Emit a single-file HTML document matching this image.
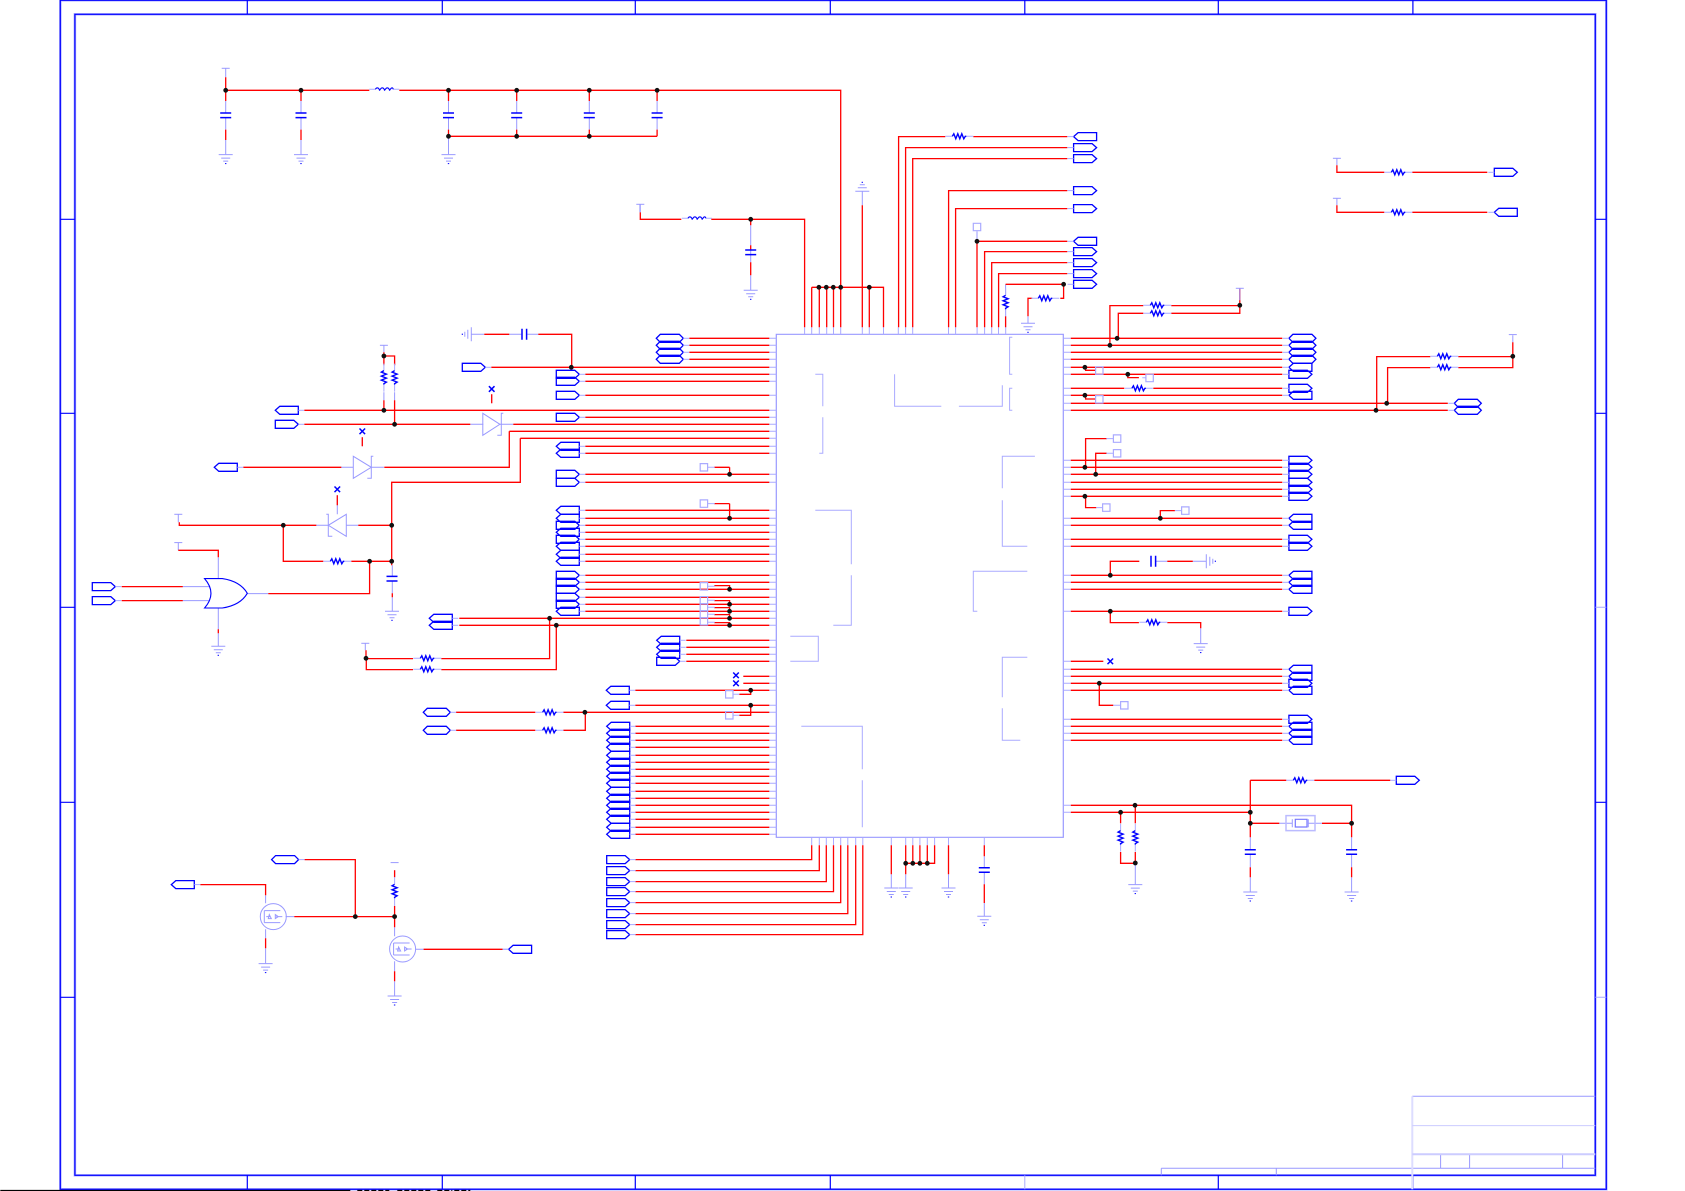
<!DOCTYPE html>
<html><head><meta charset="utf-8"><title>Schematic</title>
<style>html,body{margin:0;padding:0;background:#fff}svg{display:block}</style></head>
<body>
<svg xmlns="http://www.w3.org/2000/svg" width="1685" height="1191" viewBox="0 0 1685 1191" fill="none">
<defs>
<g id="a"><path d="M0-4H18.5L23 0L18.5 4H0Z" stroke="#00f" stroke-width="1.3"/><path d="M23 0h6" stroke="#aaf"/></g>
<g id="b"><path d="M23-4H4.5L0 0L4.5 4H23Z" stroke="#00f" stroke-width="1.3"/><path d="M23 0h6" stroke="#aaf"/></g>
<g id="h"><path d="M4-4H23L27 0L23 4H4L0 0Z" stroke="#00f" stroke-width="1.3"/><path d="M27 0h6" stroke="#aaf"/></g>
<g id="c"><path d="M0-4H18.5L23 0L18.5 4H0Z" stroke="#00f" stroke-width="1.3"/><path d="M-6 0h6" stroke="#aaf"/></g>
<g id="d"><path d="M23-4H4.5L0 0L4.5 4H23Z" stroke="#00f" stroke-width="1.3"/><path d="M-6 0h6" stroke="#aaf"/></g>
<g id="e"><path d="M4-4H23L27 0L23 4H4L0 0Z" stroke="#00f" stroke-width="1.3"/><path d="M-6 0h6" stroke="#aaf"/></g>
<g id="g"><path d="M-7 0H7M-4.500 3.500H4.500M-2.500 6.500H2.500" stroke="#99f"/><path d="M-.7 9h1.400" stroke="#00f"/></g>
<g id="gi"><path d="M-7 0H7M-4.500-3.500H4.500M-2.500-6.500H2.500" stroke="#99f"/><path d="M-.7-9h1.400" stroke="#00f"/></g>
<path id="p" d="M-4 0H4" stroke="#99f"/>
<g id="rh"><path d="M-14 0H-7M7 0H14" stroke="#aaf"/><path d="M-7 0L-5.500-2.500L-3.500 2.500L-1.500-2.500L.5 2.500L2.500-2.500L4.500 2.500L6 0H7" stroke="#00f" stroke-width="1.400"/></g>
<g id="rv"><path d="M0-14V-7M0 7V14" stroke="#aaf"/><path d="M0-7L-2.500-5.500L2.500-3.500L-2.500-1.500L2.500 .5L-2.500 2.500L2.500 4.500L0 6V7" stroke="#00f" stroke-width="1.400"/></g>
<g id="l"><path d="M-15 0H-9M9 0H15" stroke="#aaf"/><path d="M-9 0Q-7-3-5 0Q-5 2-4 0Q-2-3 0 0Q0 2 1 0Q3-3 5 0Q5 2 6 0Q8-3 9 0" stroke="#00f" stroke-width="1.100"/></g>
<g id="cv"><path d="M-5.500-2.300H5.500M-5.500 2.300H5.500" stroke="#00f" stroke-width="1.500"/></g>
<g id="ch"><path d="M-2.300-5.500V5.500M2.300-5.500V5.500" stroke="#00f" stroke-width="1.500"/></g>
<path id="x" d="M-2.800-2.800L2.800 2.800M-2.800 2.800L2.800-2.800" stroke="#00f" stroke-width="1.500"/>
<path id="s" d="M-3.700-3.700H3.700V3.700H-3.700Z" stroke="#aaf" stroke-width="1.200"/>
<g id="m"><circle r="13" stroke="#99f"/><path d="M-9-6H7M-9 6H7M-7 0H-3M3 0H9M-9-6V6M-4-2L-2 2H-5ZM2-2L5 0L2 2Z" stroke="#99f"/></g>
</defs>
<rect width="1685" height="1191" fill="#fff"/>
<g transform="translate(.3 .3)">
<!-- frame -->
<path d="M60 0V1189H1606V0H60ZM74.600 14V1175H1595V14Z" stroke="#aaf" stroke-width="2.500"/>
<path d="M60 0V1189H1606V0H60ZM74.600 14V1175H1595V14Z" stroke="#00f" stroke-width="1.200"/>
<path d="M247 0V14M442 0V14M635 0V14M830 0V14M1024.500 0V14M1218 0V14M1412.600 0V14M60 219H74.600M60 413H74.600M60 607H74.600M60 802H74.600M60 997H74.600M1595 219H1606M1595 413H1606M1595 802H1606M247 1175V1189M442 1175V1189M635 1175V1189M830 1175V1189M1218 1175V1189M1412.600 1175V1189" stroke="#00f" stroke-width="1.200"/>
<path d="M1595 607H1606M1595 997H1606M1024.500 1175V1189" stroke="#aaf"/>
<!-- title block -->
<path d="M1412 1096H1595M1161 1168H1595M1440.300 1154V1168M1469.300 1154V1168M1562.300 1154V1168M1161 1168V1175M1276 1168V1175" stroke="#99f"/>
<path d="M1412 1096V1189" stroke="#ddf" stroke-width="2"/>
<path d="M1412 1125.300H1595" stroke="#ccf"/>
<path d="M1412 1154H1595" stroke="#ccf" stroke-width="2"/>
<path d="M0 1190.300H350" stroke="#000" stroke-width="1.400"/>
<path d="M357 1190.300H389M397 1190.300H432M437 1190.300H452M454 1190.300H470" stroke="#000" stroke-width="1.400" stroke-dasharray="5 2"/>
<!-- chip -->
<path d="M776 334H1063V837H776Z" stroke="#99f" stroke-width="1.200"/>
<path d="M815 374H822.500V406M822.500 417V453H819M894.300 374V406H941M958.600 406H1002V385M1012 337H1009.300V374H1012M1012 388H1009.300V410H1012M1034.600 456H1002V488M1002 500V546H1027M815 510H851V564M851 575V625H833M1027 571H973V611H977M790 636H818V661H790M1027 657H1002V697M1002 708V740H1020M801 726H862V769M862 780V827" stroke="#aaf"/>
<!-- pin stubs -->
<path stroke="#aaf" d="M769 338h7M769 345h7M769 352h7M769 359h7M769 367h7M769 374h7M769 381h7M769 395h7M769 410h7M769 417h7M769 424h7M769 431h7M769 438h7M769 446h7M769 453h7M769 474h7M769 482h7M769 510h7M769 518h7M769 525h7M769 532h7M769 539h7M769 546h7M769 554h7M769 561h7M769 575h7M769 582h7M769 589h7M769 597h7M769 604h7M769 611h7M769 618h7M769 625h7M769 640h7M769 647h7M769 654h7M769 661h7M769 676h7M769 683h7M769 690h7M769 705h7M769 712h7M769 726h7M769 733h7M769 740h7M769 747h7M769 755h7M769 762h7M769 769h7M769 776h7M769 783h7M769 791h7M769 798h7M769 805h7M769 812h7M769 819h7M769 827h7M769 834h7
M1063 338h7.500M1063 345h7.500M1063 352h7.500M1063 359h7.500M1063 367h7.500M1063 374h7.500M1063 388h7.500M1063 395h7.500M1063 403h7.500M1063 410h7.500M1063 460h7.500M1063 467h7.500M1063 474h7.500M1063 482h7.500M1063 489h7.500M1063 496h7.500M1063 518h7.500M1063 525h7.500M1063 539h7.500M1063 546h7.500M1063 575h7.500M1063 582h7.500M1063 589h7.500M1063 611h7.500M1063 661h7.500M1063 669h7.500M1063 676h7.500M1063 683h7.500M1063 690h7.500M1063 719h7.500M1063 726h7.500M1063 733h7.500M1063 740h7.500M1063 805h7.500M1063 812h7.500
M804.300 327v7M811.400 327v7M819 327v7M826.400 327v7M833.200 327v7M840.400 327v7M862 327v7M869 327v7M883.200 327v7M898 327v7M905.300 327v7M912.400 327v7M948.200 327v7M955.300 327v7M976.800 327v7M984.300 327v7M991.400 327v7M998.200 327v7M1005.400 327v7
M811.400 837v8M819 837v8M826 837v8M833.200 837v8M840.400 837v8M847.500 837v8M855.400 837v8M862.500 837v8M891 837v8M905.400 837v8M912.500 837v8M919.600 837v8M927 837v8M934.300 837v8M948.200 837v8M984 837v8"/>
<!-- other stubs -->
<path stroke="#99f" d="M225.400 68V77M225.400 100.700V112.700M225.400 117V129.300M225.400 139.700V154M300.700 100.700V112.700M300.700 117V129.300M300.700 139.700V154M448.200 100.700V112.700M448.200 117V129.300M448.200 136V154M516.400 100.700V112.700M516.400 117V129.300M589 100.700V112.700M589 117V129.300M656.800 100.700V112.700M656.800 117V129.300
M750.400 225V245M750.400 250V262M750.400 275V290
M639.600 204V212M365 643V650M178 514V522M178 542.300V550M383.600 345V352M383.600 360V365M394.300 360V365M383.600 392V400M394.300 392V400M491.400 394V403M362 437V446M337 495V505M337 505V514
M471 334H484M509 334H521M527 334H538M1167 561H1155M1192.500 561H1206
M862 191V205M1005.300 284V295M1005.300 308V327M1027.700 316V323M1200.400 628V643M1336.600 158V165M1336.600 198V205M1512.500 335V342
M470 424H483M499.600 424H513M340.700 467H353M371 467H383.600M315.700 525H328M346 525H358M392 565V576M392 581V593M392 597V611M218 557V578M218 608V629M218 633V646M182.500 586.300H209M182.500 600.300H209M247 593.300H268
M265.300 895V903M265.300 929V938M265.300 948V963M285.300 916.300H294M394.300 870V877M394.300 905V906M394.300 927V936M394.300 961V971M394.300 981V996M415 949H423.300M502.300 949H508
M891 874V888M905.400 874V888M948.200 874V888M984 856V867M984 872V884M984 902.700V916
M1120.300 823V823M1120.300 851.700V851.700M1135 823V823M1135 862.700V884M1250 837V849M1250 854V867M1250 877V892M1351.300 837V849M1351.300 854V867M1351.300 877V892
M1279 823H1292M1308 823H1321.700M1292 819V827M1308 819V827
M976.700 231V241"/>
<!-- red wires -->
<path stroke="#f00" stroke-width="1.300" d="M689 338H769M689 345H769M689 352H769M689 359H769M491 367H769M585 374H769M585 381H769M585 395H769M304 410H769M585 417H769M304 424H470M513 424H769M509 431H769M509 431V467H384M243 467H341M520 438H769M520 438V482H391.400V565M585 446H769M585 453H769M585 474H769M585 482H769M585 510H769M585 518H769M585 525H769M585 532H769M585 539H769M585 546H769M585 554H769M585 561H769M585 575H769M585 582H769M585 589H769M585 597H769M585 604H769M585 611H769M459 618H769M459 625H769M686 640H769M686 647H769M686 654H769M686 661H769M743 676H769M743 683H769M635 690H769M635 705H769M564 712H769M635 726H769M635 733H769M635 740H769M635 747H769M635 755H769M635 762H769M635 769H769M635 776H769M635 783H769M635 791H769M635 798H769M635 805H769M635 812H769M635 819H769M635 827H769M635 834H769
M1070.500 338H1282M1070.500 345H1282M1070.500 352H1282M1070.500 359H1282M1070.500 367H1282M1070.500 374H1282M1070.500 388H1124M1153 388H1282M1070.500 395H1282M1070.500 403H1447.500M1070.500 410H1447.500M1070.500 460H1282M1070.500 467H1282M1070.500 474H1282M1070.500 482H1282M1070.500 489H1282M1070.500 496H1282M1070.500 518H1282M1070.500 525H1282M1070.500 539H1282M1070.500 546H1282M1070.500 575H1282M1070.500 582H1282M1070.500 589H1282M1070.500 611H1282M1070.500 661H1103M1070.500 669H1282M1070.500 676H1282M1070.500 683H1282M1070.500 690H1282M1070.500 719H1282M1070.500 726H1282M1070.500 733H1282M1070.500 740H1282M1070.500 805H1351.300V823M1070.500 812H1250
M225.400 77V100.700M225.400 90H369M399 90H840.400V327M225.400 129.300V139.700M300.700 90V100.700M300.700 129.300V139.700M448.200 90V100.700M448.200 129.300V136M516.400 90V100.700M516.400 129.300V136M589 90V100.700M589 129.300V136M656.800 90V100.700M656.800 129.300V136M448.200 136H656.800
M640 212V219H681M711 219H804.300V327M750.400 219V225M750.400 245V250M750.400 262V275M811.400 287H883.200V327M811.400 287V327M819 287V327M826.400 287V327M833.200 287V327M869 287V327
M862 205V327M898.300 327V136.300H945M973 136.300H1067M905.300 327V147.300H1067M912.400 327V158.300H1067M948.300 327V190.300H1067M955.300 327V208.300H1067M976.700 327V241H1067M984.300 327V251.300H1067M991.400 327V262.300H1067M998.300 327V273.300H1067M1005.300 284H1063.300V298H1060M1032 298H1027.700V316
M1005.300 327V316
M538 334H571.400V367M484 334H509
M383.600 352V355.700H394.300V365M383.600 355.700V365M383.600 400V410M394.300 400V424
M491.400 394V403M362 437V446M337 495V505
M179 522V525H316M358 525H391.400M283 525V561H323M351 561H391.400M369.300 561V593.300H268M178 550V550H218V557M121.400 586.300H182.500M121.400 600.300H182.500M218 629V633
M392 593V597
M549.300 618V658.300H441M412.700 658.300H365.700V650M556 625V669.300H441M412.700 669.300H366V658
M200 884.300H265.300V895M265.300 938V948M304.300 859.300H355V916.300M294 916.300H394.300M394.300 870V877M394.300 905.700V927M394.300 971V981M423.300 949H502.300
M455.700 712H535M563 712H585M585 712V730H563M455.700 730H535
M729.300 467H714M729.300 467V474M729.300 503.300H714M729.300 503.300V518M714 585.300H729.300V589M714 600.300H729.300V604M714 607.300H729.300V611M714 614.300H729.300V618M714 622.300H729.300V625M739 694H750.400V690M739 715H750.400V705
M811.400 845V859.300H635M819 845V870.300H635M826 845V881.300H635M833.200 845V891.300H635M840.400 845V902.300H635M847.500 845V913.300H635M855.400 845V924.300H635M862.500 845V934.300H635
M891 845V874M905.400 845V874M912.500 845V863M919.600 845V863M927 845V863M934.300 845V863H905.400M948.200 845V874M984 845V856M984 884V902.700
M1085.300 367V370H1095M1127.500 374V377.300H1138.600M1085.300 395V398.700H1095
M1109.600 345V305.300H1143M1171 305.300H1239.500V288M1118 338V313H1143M1171 313H1239.500V305
M1376.400 410V356.300H1430M1458 356.300H1512.500V342M1387.300 403V367.300H1430M1458 367.300H1512.500V356
M1085.300 467V438.300H1106.400M1095.400 474V453H1106.400M1085.300 496V507.300H1096M1160 518V510.300H1174.600M1110 575V561H1139M1167 561H1192.500M1110 611V622.300H1138.600M1167 622.300H1200.400V628M1099 683V705H1113
M1336.600 165V172H1384M1412 172H1487M1336.600 205V212H1384M1412 212H1487
M1120.300 812V823M1135 805V823M1120.300 851.700V863H1135M1135 851.700V862.700M1250 780V837M1250 780H1286M1314 780H1390M1351.300 805V837M1250 823H1279M1321.700 823H1351.300M1250 867V877M1351.300 867V877"/>
<!-- power Ts and grounds -->
<use href="#p" x="225.400" y="68"/><use href="#p" x="640" y="204"/><use href="#p" x="383.600" y="345"/><use href="#p" x="178" y="514"/><use href="#p" x="178" y="542.300"/><use href="#p" x="365" y="643"/><use href="#p" x="394.300" y="862.300"/><use href="#p" x="1239.500" y="288"/><use href="#p" x="1512.500" y="334.300"/><use href="#p" x="1336.600" y="158"/><use href="#p" x="1336.600" y="198"/>
<path d="M640 204V212M1239.500 288V300" stroke="#99f"/>
<use href="#g" x="225.400" y="154.300"/><use href="#g" x="300.700" y="154.300"/><use href="#g" x="448.200" y="154.300"/><use href="#g" x="750.400" y="290"/><use href="#g" x="1027.700" y="323"/><use href="#g" x="391.700" y="611"/><use href="#g" x="218" y="646"/><use href="#g" x="265.300" y="963.300"/><use href="#g" x="394.300" y="995.700"/><use href="#g" x="891" y="887.700"/><use href="#g" x="905.400" y="887.700"/><use href="#g" x="948.200" y="887.700"/><use href="#g" x="984" y="916"/><use href="#g" x="1200.400" y="643.300"/><use href="#g" x="1135" y="884.300"/><use href="#g" x="1250" y="891.700"/><use href="#g" x="1351.300" y="891.700"/>
<use href="#gi" x="862" y="191"/>
<use href="#gi" transform="translate(471 334) rotate(-90)"/>
<use href="#g" transform="translate(1206 561) rotate(-90)"/>
<!-- passive -->
<use href="#l" x="384" y="89"/><use href="#l" x="696.600" y="218"/>
<use href="#cv" x="225.400" y="115"/><use href="#cv" x="300.700" y="115"/><use href="#cv" x="448.200" y="115"/><use href="#cv" x="516.400" y="115"/><use href="#cv" x="589" y="115"/><use href="#cv" x="656.800" y="115"/><use href="#cv" x="750.400" y="252"/><use href="#cv" x="391.700" y="578.400"/><use href="#cv" x="984" y="869.700"/><use href="#cv" x="1250" y="851.700"/><use href="#cv" x="1351.300" y="851.700"/>
<use href="#ch" x="524" y="334"/><use href="#ch" x="1153" y="561"/>
<use href="#rh" x="959" y="136"/><use href="#rh" x="1045" y="298"/><use href="#rh" x="1157" y="305"/><use href="#rh" x="1157" y="313"/><use href="#rh" x="1444" y="356"/><use href="#rh" x="1444" y="367"/><use href="#rh" x="1398" y="172"/><use href="#rh" x="1398" y="212"/><use href="#rh" x="1138.600" y="388"/><use href="#rh" x="1153" y="622"/><use href="#rh" x="337" y="561"/><use href="#rh" x="427" y="658"/><use href="#rh" x="427" y="669"/><use href="#rh" x="549.300" y="712"/><use href="#rh" x="549.300" y="730"/><use href="#rh" x="1300" y="780"/>
<use href="#rv" x="1005.300" y="302"/><use href="#rv" x="383.600" y="377.300"/><use href="#rv" x="394.300" y="377.300"/><use href="#rv" x="394.300" y="891"/><use href="#rv" x="1120.300" y="837.300"/><use href="#rv" x="1135" y="837.300"/>
<!-- crystal -->
<path d="M1285.700 815.300H1314.700V830.300H1285.700Z" stroke="#bbf" stroke-width="1.500"/><path d="M1295 819H1306.700V826.700H1295Z" stroke="#77f" stroke-width="1.200"/>
<!-- X marks -->
<use href="#x" x="491.400" y="388.700"/><use href="#x" x="362" y="431"/><use href="#x" x="337" y="489"/><use href="#x" x="735.700" y="675"/><use href="#x" x="735.700" y="683"/><use href="#x" x="1110" y="661"/>
<!-- squares -->
<use href="#s" x="703.600" y="467"/><use href="#s" x="703.600" y="503.300"/><use href="#s" x="703.600" y="586"/><use href="#s" x="703.600" y="600"/><use href="#s" x="703.600" y="607"/><use href="#s" x="703.600" y="614"/><use href="#s" x="703.600" y="621"/><use href="#s" x="729" y="694"/><use href="#s" x="729" y="715"/><use href="#s" x="976.700" y="226.700"/><use href="#s" x="1099" y="370.300"/><use href="#s" x="1149.300" y="377.700"/><use href="#s" x="1099" y="399"/><use href="#s" x="1116.800" y="438.300"/><use href="#s" x="1116.800" y="453"/><use href="#s" x="1106" y="507.300"/><use href="#s" x="1185" y="510.300"/><use href="#s" x="1124" y="705"/>
<path d="M707.500 467h7M707.500 503.300h7M707.500 586h7M707.500 600h7M707.500 607h7M707.500 614h7M707.500 622h7M733 694h6M733 715h6M1095 370h0M1142 377.500h3.500M1106 438.300h7M1106 453h7M1096 507.300h6M1174.600 510.300h7M1113 705h7" stroke="#aaf"/>
<!-- buffers and gate -->
<path d="M482.500 413V435L499.600 424ZM353 456V478L371 467ZM346 514V536L328 525Z" stroke="#99f"/>
<path d="M503 413H501V435H497M373 456H371V478H367M326 514H328V536H332" stroke="#99f"/>
<path d="M204.300 578.300Q217 593 204.300 607.700H222Q240 605 247 593Q240 581 222 578.300Z" stroke="#00f" stroke-width="1.100"/>
<use href="#m" x="273" y="916.300"/><use href="#m" x="402.300" y="948.700"/>
<!-- tags left -->
<use href="#h" x="656" y="338"/><use href="#h" x="656" y="345"/><use href="#h" x="656" y="352"/><use href="#h" x="656" y="359"/>
<use href="#a" x="462" y="367"/><use href="#a" x="556" y="374"/><use href="#a" x="556" y="381"/><use href="#a" x="556" y="395"/><use href="#a" x="556" y="417"/><use href="#b" x="556" y="446"/><use href="#b" x="556" y="453"/><use href="#a" x="556" y="474"/><use href="#a" x="556" y="482"/>
<use href="#b" x="556" y="510"/><use href="#b" x="556" y="518"/><use href="#a" x="556" y="525"/><use href="#b" x="556" y="532"/><use href="#a" x="556" y="539"/><use href="#b" x="556" y="546"/><use href="#b" x="556" y="554"/><use href="#b" x="556" y="561"/>
<use href="#a" x="556" y="575"/><use href="#a" x="556" y="582"/><use href="#a" x="556" y="589"/><use href="#a" x="556" y="597"/><use href="#a" x="556" y="604"/><use href="#b" x="556" y="611"/>
<use href="#b" x="656.400" y="640"/><use href="#b" x="656.400" y="647"/><use href="#b" x="656.400" y="654"/><use href="#a" x="656.400" y="661"/>
<use href="#b" x="429" y="618"/><use href="#b" x="429" y="625"/>
<use href="#b" x="275" y="410"/><use href="#a" x="275" y="424"/><use href="#b" x="214" y="467"/>
<use href="#a" x="92" y="586.300"/><use href="#a" x="92" y="600.300"/>
<use href="#b" x="606" y="690"/><use href="#b" x="606" y="705"/>
<use href="#h" x="423" y="712"/><use href="#h" x="423" y="730"/>
<use href="#b" x="606.400" y="726"/><use href="#b" x="606.400" y="733"/><use href="#b" x="606.400" y="740"/><use href="#b" x="606.400" y="747"/><use href="#b" x="606.400" y="755"/><use href="#b" x="606.400" y="762"/><use href="#b" x="606.400" y="769"/><use href="#b" x="606.400" y="776"/><use href="#b" x="606.400" y="783"/><use href="#b" x="606.400" y="791"/><use href="#b" x="606.400" y="798"/><use href="#b" x="606.400" y="805"/><use href="#b" x="606.400" y="812"/><use href="#b" x="606.400" y="819"/><use href="#b" x="606.400" y="827"/><use href="#b" x="606.400" y="834"/>
<use href="#a" x="606.400" y="859.300"/><use href="#a" x="606.400" y="870.300"/><use href="#a" x="606.400" y="881.300"/><use href="#a" x="606.400" y="891.300"/><use href="#a" x="606.400" y="902.300"/><use href="#a" x="606.400" y="913.300"/><use href="#a" x="606.400" y="924.300"/><use href="#a" x="606.400" y="934.300"/>
<use href="#b" x="171" y="884.300"/><use href="#h" x="271.300" y="859.300"/>
<!-- tags right -->
<use href="#e" x="1288.600" y="338"/><use href="#e" x="1288.600" y="345"/><use href="#e" x="1288.600" y="352"/><use href="#e" x="1288.600" y="359"/>
<use href="#d" x="1288.600" y="367"/><use href="#c" x="1288.600" y="374"/><use href="#c" x="1288.600" y="388"/><use href="#d" x="1288.600" y="395"/>
<use href="#e" x="1454" y="403"/><use href="#e" x="1454" y="410"/>
<use href="#c" x="1288.600" y="460"/><use href="#c" x="1288.600" y="467"/><use href="#c" x="1288.600" y="474"/><use href="#c" x="1288.600" y="482"/><use href="#c" x="1288.600" y="489"/><use href="#c" x="1288.600" y="496"/>
<use href="#d" x="1288.600" y="518"/><use href="#d" x="1288.600" y="525"/><use href="#c" x="1288.600" y="539"/><use href="#c" x="1288.600" y="546"/>
<use href="#d" x="1288.600" y="575"/><use href="#d" x="1288.600" y="582"/><use href="#d" x="1288.600" y="589"/><use href="#c" x="1288.600" y="611"/>
<use href="#d" x="1288.600" y="669"/><use href="#d" x="1288.600" y="676"/><use href="#c" x="1288.600" y="683"/><use href="#d" x="1288.600" y="690"/>
<use href="#c" x="1288.600" y="719"/><use href="#d" x="1288.600" y="726"/><use href="#d" x="1288.600" y="733"/><use href="#d" x="1288.600" y="740"/>
<use href="#c" x="1396" y="780"/>
<use href="#c" x="1494" y="172"/><use href="#d" x="1494" y="212"/>
<use href="#d" x="1073.300" y="136.300"/><use href="#c" x="1073.300" y="147.300"/><use href="#c" x="1073.300" y="158.300"/><use href="#c" x="1073.300" y="190.300"/><use href="#c" x="1073.300" y="208.300"/><use href="#d" x="1073.300" y="241"/><use href="#c" x="1073.300" y="251.300"/><use href="#c" x="1073.300" y="262.300"/><use href="#c" x="1073.300" y="273.300"/><use href="#c" x="1073.300" y="284"/>
<use href="#d" x="508.300" y="949"/>
<!-- junction dots -->
<path stroke="#111" stroke-width="4.800" stroke-linecap="round" d="M225.400 90h0M300.700 90h0M448.200 90h0M516.400 90h0M589 90h0M656.800 90h0M448.200 136h0M516.400 136h0M589 136h0M750.400 219h0M818.600 287h0M826 287h0M833 287h0M840.400 287h0M869 287h0M976.700 241h0M1063.300 284h0M571 367h0M383.600 355.700h0M383.600 410h0M394.300 424h0M283 525h0M391.400 525h0M369.300 561h0M391.400 561h0M549.300 618h0M556 625h0M365.700 658h0M584.600 712h0M729.300 474h0M729.300 518h0M729.300 589h0M729.300 604h0M729.300 611h0M729.300 618h0M729.300 625h0M750.400 690h0M750.400 705h0M905.400 863h0M912.500 863h0M919.600 863h0M927 863h0M355 916.300h0M394.300 916.300h0M1109.600 345h0M1116.800 338h0M1084.600 367h0M1127.500 374h0M1084.600 395h0M1375.700 410h0M1386.400 403h0M1512.500 356h0M1239.500 305h0M1084.600 467h0M1095.400 474h0M1084.600 496h0M1160 518h0M1110 575h0M1110 611h0M1099 683h0M1134.700 805h0M1120.300 812h0M1250 812h0M1250 823h0M1351.300 823h0M1135 862.700h0"/>
</g>
</svg>
</body></html>
